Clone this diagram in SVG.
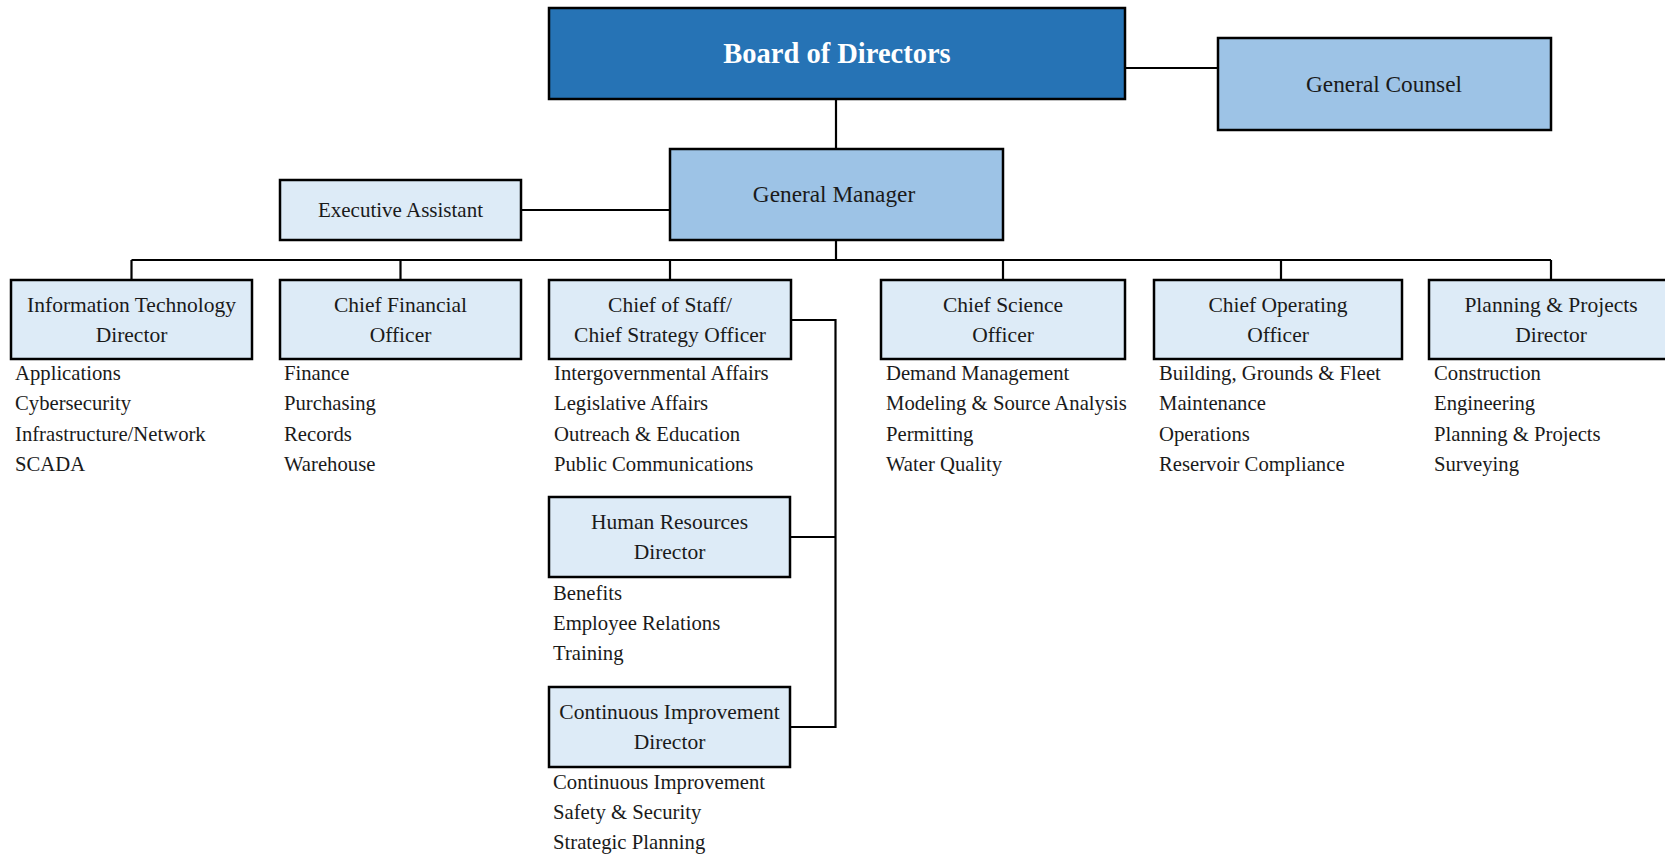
<svg xmlns="http://www.w3.org/2000/svg" width="1665" height="858" viewBox="0 0 1665 858">
<style>
  .box { stroke: #000; stroke-width: 2.5; }
  .dark { fill: #2673B5; }
  .mid { fill: #9DC3E6; }
  .light { fill: #DDEBF7; }
  .lbl { font-family: "Liberation Serif", "Times New Roman", serif; fill: #1a1a1a; text-anchor: middle; font-size: 21.5px; }
  .item { font-family: "Liberation Serif", "Times New Roman", serif; fill: #1a1a1a; font-size: 20.7px; }
  .conn { stroke: #000; stroke-width: 2.2; fill: none; }
</style>
<rect width="1665" height="858" fill="#fff"/>

<g id="connectors">
  <path class="conn" d="M836,99 V149"/>
  <path class="conn" d="M1125,68 H1218"/>
  <path class="conn" d="M521,210 H670"/>
  <path class="conn" d="M836,240 V260"/>
  <path class="conn" d="M131.5,260 H1551"/>
  <path class="conn" d="M131.5,260 V280 M400.5,260 V280 M670,260 V280 M1003,260 V280 M1281,260 V280 M1551,260 V280"/>
  <path class="conn" d="M791,320 H835.5 V727 H790 M790,537 H835.5"/>
</g>

<g id="board">
  <rect class="box dark" x="549" y="8" width="576" height="91"/>
  <text x="837" y="63" text-anchor="middle" font-family="Liberation Serif, Times New Roman, serif" font-weight="bold" font-size="28.5" fill="#fff">Board of Directors</text>
</g>

<g id="general-counsel">
  <rect class="box mid" x="1218" y="38" width="333" height="92"/>
  <text class="lbl" x="1384" y="92" style="font-size:23.3px">General Counsel</text>
</g>

<g id="general-manager">
  <rect class="box mid" x="670" y="149" width="333" height="91"/>
  <text class="lbl" x="834" y="202" style="font-size:23.3px">General Manager</text>
</g>

<g id="executive-assistant">
  <rect class="box light" x="280" y="180" width="241" height="60"/>
  <text class="lbl" x="400.5" y="217" style="font-size:21px">Executive Assistant</text>
</g>

<g id="it-director">
  <rect class="box light" x="11" y="280" width="241" height="79"/>
  <text class="lbl" x="131.5" y="311.7">Information Technology</text>
  <text class="lbl" x="131.5" y="341.7">Director</text>
  <text class="item" x="15" y="380">Applications</text>
  <text class="item" x="15" y="410.3">Cybersecurity</text>
  <text class="item" x="15" y="440.6">Infrastructure/Network</text>
  <text class="item" x="15" y="471">SCADA</text>
</g>

<g id="cfo">
  <rect class="box light" x="280" y="280" width="241" height="79"/>
  <text class="lbl" x="400.5" y="311.7">Chief Financial</text>
  <text class="lbl" x="400.5" y="341.7">Officer</text>
  <text class="item" x="284" y="380">Finance</text>
  <text class="item" x="284" y="410.3">Purchasing</text>
  <text class="item" x="284" y="440.6">Records</text>
  <text class="item" x="284" y="471">Warehouse</text>
</g>

<g id="chief-of-staff">
  <rect class="box light" x="549" y="280" width="242" height="79"/>
  <text class="lbl" x="670" y="311.7">Chief of Staff/</text>
  <text class="lbl" x="670" y="341.7">Chief Strategy Officer</text>
  <text class="item" x="554" y="380">Intergovernmental Affairs</text>
  <text class="item" x="554" y="410.3">Legislative Affairs</text>
  <text class="item" x="554" y="440.6">Outreach &amp; Education</text>
  <text class="item" x="554" y="471">Public Communications</text>
</g>

<g id="cso">
  <rect class="box light" x="881" y="280" width="244" height="79"/>
  <text class="lbl" x="1003" y="311.7">Chief Science</text>
  <text class="lbl" x="1003" y="341.7">Officer</text>
  <text class="item" x="886" y="380">Demand Management</text>
  <text class="item" x="886" y="410.3">Modeling &amp; Source Analysis</text>
  <text class="item" x="886" y="440.6">Permitting</text>
  <text class="item" x="886" y="471">Water Quality</text>
</g>

<g id="coo">
  <rect class="box light" x="1154" y="280" width="248" height="79"/>
  <text class="lbl" x="1278" y="311.7">Chief Operating</text>
  <text class="lbl" x="1278" y="341.7">Officer</text>
  <text class="item" x="1159" y="380">Building, Grounds &amp; Fleet</text>
  <text class="item" x="1159" y="410.3">Maintenance</text>
  <text class="item" x="1159" y="440.6">Operations</text>
  <text class="item" x="1159" y="471">Reservoir Compliance</text>
</g>

<g id="planning-projects">
  <rect class="box light" x="1429" y="280" width="244" height="79"/>
  <text class="lbl" x="1551" y="311.7">Planning &amp; Projects</text>
  <text class="lbl" x="1551" y="341.7">Director</text>
  <text class="item" x="1434" y="380">Construction</text>
  <text class="item" x="1434" y="410.3">Engineering</text>
  <text class="item" x="1434" y="440.6">Planning &amp; Projects</text>
  <text class="item" x="1434" y="471">Surveying</text>
</g>

<g id="hr-director">
  <rect class="box light" x="549" y="497" width="241" height="80"/>
  <text class="lbl" x="669.5" y="529">Human Resources</text>
  <text class="lbl" x="669.5" y="559">Director</text>
  <text class="item" x="553" y="599.5">Benefits</text>
  <text class="item" x="553" y="629.8">Employee Relations</text>
  <text class="item" x="553" y="660">Training</text>
</g>

<g id="ci-director">
  <rect class="box light" x="549" y="687" width="241" height="80"/>
  <text class="lbl" x="669.5" y="719">Continuous Improvement</text>
  <text class="lbl" x="669.5" y="749">Director</text>
  <text class="item" x="553" y="789">Continuous Improvement</text>
  <text class="item" x="553" y="819">Safety &amp; Security</text>
  <text class="item" x="553" y="849">Strategic Planning</text>
</g>
</svg>
